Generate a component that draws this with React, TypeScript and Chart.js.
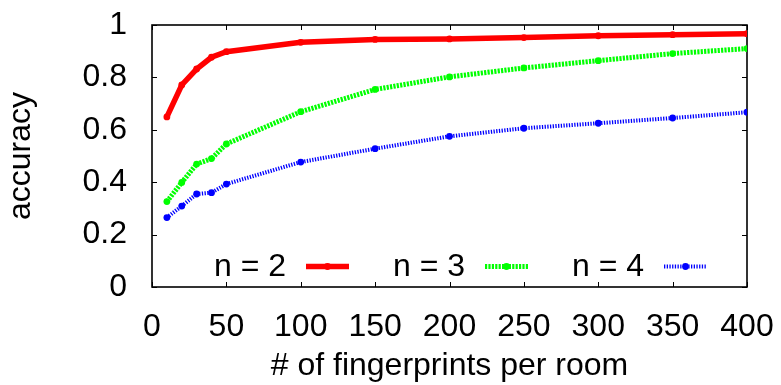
import React, { useEffect, useRef } from "react";
import { Chart, registerables } from "chart.js";

Chart.register(...registerables);

const fingerprints = [10, 20, 30, 40, 50, 100, 150, 200, 250, 300, 350, 400];
const accN2 = [0.649, 0.771, 0.832, 0.877, 0.898, 0.934, 0.945, 0.947, 0.952, 0.959, 0.963, 0.967];
const accN3 = [0.326, 0.399, 0.469, 0.49, 0.546, 0.669, 0.754, 0.802, 0.836, 0.864, 0.891, 0.91];
const accN4 = [0.265, 0.309, 0.355, 0.36, 0.393, 0.477, 0.528, 0.575, 0.606, 0.625, 0.645, 0.667];
const seriesLabels = ["n = 2", "n = 3", "n = 4"];
const xTitle = "# of fingerprints per room";
const yTitle = "accuracy";

const FONT = "'Liberation Sans', Arial, Helvetica, sans-serif";
const FONT_SIZE = 32;

const framePlugin = {
  id: "gnuFrame",
  beforeDatasetsDraw(chart: any) {
    const { ctx, chartArea: a, scales } = chart;
    ctx.save();
    ctx.strokeStyle = "#000";
    ctx.lineWidth = 1;
    const tl = 5;
    ctx.beginPath();
    scales.x.ticks.forEach((t: any) => {
      const px = Math.round(scales.x.getPixelForValue(t.value)) + 0.5;
      ctx.moveTo(px, a.bottom);
      ctx.lineTo(px, a.bottom - tl);
      ctx.moveTo(px, a.top);
      ctx.lineTo(px, a.top + tl);
    });
    scales.y.ticks.forEach((t: any) => {
      const py = Math.round(scales.y.getPixelForValue(t.value)) + 0.5;
      ctx.moveTo(a.left, py);
      ctx.lineTo(a.left + tl, py);
      ctx.moveTo(a.right, py);
      ctx.lineTo(a.right - tl, py);
    });
    ctx.stroke();
    ctx.lineWidth = 1.6;
    ctx.strokeRect(a.left, a.top, a.right - a.left, a.bottom - a.top);
    ctx.restore();
  },
};

const legendPlugin = {
  id: "gnuLegend",
  afterDatasetsDraw(chart: any) {
    const { ctx, chartArea: a } = chart;
    const y = a.bottom - 20.5;
    const firstRight = a.left + 134;
    const spacing = 179;
    const gap = 20;
    const sampleLen = 43;
    ctx.save();
    ctx.font = `${FONT_SIZE}px ${FONT}`;
    ctx.fillStyle = "#000";
    ctx.textAlign = "right";
    ctx.textBaseline = "middle";
    chart.data.datasets.forEach((ds: any, i: number) => {
      const right = firstRight + i * spacing;
      ctx.fillText(ds.label, right, y + 1);
      const x0 = right + gap;
      const x1 = x0 + sampleLen;
      ctx.strokeStyle = ds.borderColor;
      ctx.lineWidth = ds.borderWidth;
      ctx.setLineDash(ds.borderDash || []);
      ctx.beginPath();
      ctx.moveTo(x0, y);
      ctx.lineTo(x1, y);
      ctx.stroke();
      ctx.setLineDash([]);
      ctx.fillStyle = ds.borderColor;
      ctx.beginPath();
      ctx.arc((x0 + x1) / 2, y, ds.pointRadius, 0, Math.PI * 2);
      ctx.fill();
      ctx.fillStyle = "#000";
    });
    ctx.restore();
  },
};

export default function App() {
  const ref = useRef<HTMLCanvasElement>(null);

  useEffect(() => {
    if (!ref.current) return;
    const mk = (vals: number[]) => fingerprints.map((x, i) => ({ x, y: vals[i] }));
    const chart = new Chart(ref.current, {
      type: "line",
      data: {
        datasets: [
          {
            label: seriesLabels[0],
            data: mk(accN2),
            borderColor: "#ff0000",
            backgroundColor: "#ff0000",
            borderWidth: 5.5,
            pointRadius: 3.4,
            pointBorderWidth: 0,
            pointBackgroundColor: "#ff0000",
          },
          {
            label: seriesLabels[1],
            data: mk(accN3),
            borderColor: "#00ff00",
            backgroundColor: "#00ff00",
            borderWidth: 5,
            borderDash: [2.2, 1.2],
            pointRadius: 3.4,
            pointBorderWidth: 0,
            pointBackgroundColor: "#00ff00",
          },
          {
            label: seriesLabels[2],
            data: mk(accN4),
            borderColor: "#0000ff",
            backgroundColor: "#0000ff",
            borderWidth: 4,
            borderDash: [1.3, 1.4],
            pointRadius: 3.4,
            pointBorderWidth: 0,
            pointBackgroundColor: "#0000ff",
          },
        ],
      },
      options: {
        animation: false,
        responsive: true,
        maintainAspectRatio: false,
        layout: { padding: { left: 0, right: 34, top: 25, bottom: 0 } },
        plugins: { legend: { display: false }, tooltip: { enabled: false } },
        elements: { line: { tension: 0 } },
        scales: {
          x: {
            type: "linear",
            min: 0,
            max: 400,
            grid: { display: false },
            border: { display: false },
            ticks: {
              stepSize: 50,
              color: "#000",
              padding: 13,
              maxRotation: 0,
              font: { family: FONT, size: FONT_SIZE },
            },
            title: {
              display: true,
              text: xTitle,
              color: "#000",
              padding: 0,
              font: { family: FONT, size: FONT_SIZE },
            },
            afterFit: (s: any) => {
              s.height = 98;
              s.paddingLeft = 0;
              s.paddingRight = 0;
            },
          },
          y: {
            type: "linear",
            min: 0,
            max: 1,
            grid: { display: false },
            border: { display: false },
            ticks: {
              stepSize: 0.2,
              color: "#000",
              padding: 17,
              font: { family: FONT, size: FONT_SIZE },
              callback: (v: any) => String(Number(Number(v).toFixed(1))),
            },
            title: {
              display: true,
              text: yTitle,
              color: "#000",
              padding: { top: 2, bottom: 0 },
              font: { family: FONT, size: FONT_SIZE },
            },
            afterFit: (s: any) => {
              s.width = 152;
              s.paddingTop = 0;
              s.paddingBottom = 0;
            },
          },
        },
      },
      plugins: [framePlugin, legendPlugin],
    });
    return () => chart.destroy();
  }, []);

  return (
    <div style={{ position: "fixed", left: 0, top: 0, width: 781, height: 385, background: "#fff" }}>
      <canvas ref={ref} />
    </div>
  );
}
